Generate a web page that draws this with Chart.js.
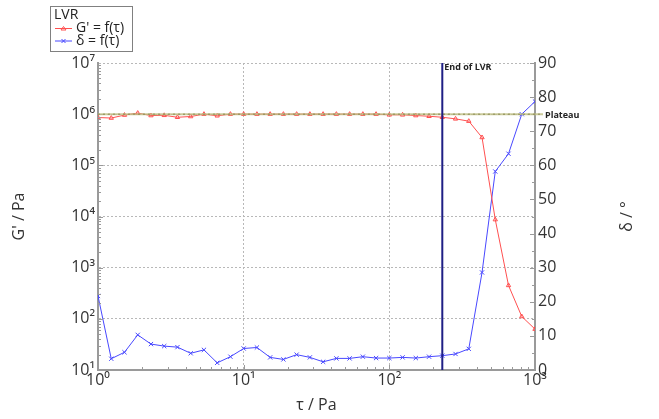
<!DOCTYPE html>
<html>
<head>
<meta charset="utf-8">
<script src="https://cdn.jsdelivr.net/npm/chart.js@4"></script>
<style>
  html, body { margin: 0; padding: 0; background: #fff; }
  #wrap { width: 659px; height: 419px; }
</style>
</head>
<body>
<div id="wrap"><canvas id="lvrChart"></canvas></div>
<script>
// shear stress tau / Pa
const tau = [1.0, 1.233, 1.52, 1.874, 2.31, 2.848, 3.511, 4.329, 5.337, 6.579, 8.111,
  10.0, 12.33, 15.2, 18.74, 23.1, 28.48, 35.11, 43.29, 53.37, 65.79, 81.11,
  100, 123.3, 152.0, 187.4, 231.0, 284.8, 351.1, 432.9, 533.7, 657.9, 811.1, 1000];

// storage modulus G' / Pa
const gPrime = [8.6e5, 8.4e5, 9.6e5, 1.05e6, 9.4e5, 9.5e5, 8.7e5, 9.0e5, 1.0e6, 9.3e5, 1.0e6,
  1.0e6, 1.0e6, 1.0e6, 1.0e6, 1.0e6, 1.0e6, 1.0e6, 1.0e6, 1.0e6, 1.0e6, 1.0e6,
  9.7e5, 9.7e5, 9.4e5, 9.1e5, 8.7e5, 8.1e5, 7.3e5, 3.5e5, 8.7e3, 450, 111, 63];

// phase angle delta / deg
const delta = [21.7, 3.3, 5.2, 10.3, 7.6, 7.0, 6.7, 4.9, 5.9, 2.1, 3.9,
  6.3, 6.6, 3.7, 3.1, 4.5, 3.7, 2.4, 3.4, 3.4, 3.9, 3.5,
  3.5, 3.7, 3.5, 3.9, 4.2, 4.7, 6.2, 28.6, 58.2, 63.4, 75.0, 78.7];

const endOfLvr = 231;     // Pa
const plateauG = 1.0e6;   // Pa
const legendTitle = "LVR";

const FONT = "'Open Sans', 'DejaVu Sans', sans-serif";
const SUP = { "0": "⁰", "1": "¹", "2": "²", "3": "³", "4": "⁴", "5": "⁵", "6": "⁶", "7": "⁷", "8": "⁸", "9": "⁹" };

function isDecade(v) {
  const e = Math.log10(v);
  return Math.abs(e - Math.round(e)) < 1e-9;
}
function powLabel(v) {
  if (!isDecade(v)) return "";
  return "10" + String(Math.round(Math.log10(v))).split("").map(c => SUP[c]).join("");
}
function gridColor(c) {
  return c.tick && isDecade(c.tick.value) ? "#b8b8b8" : "rgba(0,0,0,0)";
}

// minor ticks, reference lines, right title and legend
const extras = {
  id: "extras",
  afterDraw(chart) {
    const { ctx, chartArea: a, scales } = chart;
    const x = scales.x, y = scales.y, y1 = scales.y1;
    ctx.save();

    // inside ticks
    ctx.strokeStyle = "#9a9a9a";
    ctx.lineWidth = 1;
    ctx.beginPath();
    for (let d = 1; d < 1000; d *= 10) {
      for (let m = 1; m <= 9; m++) {
        const px = Math.round(x.getPixelForValue(d * m)) + 0.5;
        const len = m === 1 ? 5 : 3;
        ctx.moveTo(px, a.bottom); ctx.lineTo(px, a.bottom - len);
      }
    }
    for (let d = 10; d < 1e7; d *= 10) {
      for (let m = 1; m <= 9; m++) {
        const py = Math.round(y.getPixelForValue(d * m)) + 0.5;
        const len = m === 1 ? 5 : 3;
        ctx.moveTo(a.left, py); ctx.lineTo(a.left + len, py);
      }
    }
    for (let v = 0; v <= 90; v += 5) {
      const py = Math.round(y1.getPixelForValue(v)) + 0.5;
      const len = v % 10 === 0 ? 5 : 3;
      ctx.moveTo(a.right, py); ctx.lineTo(a.right - len, py);
    }
    ctx.stroke();

    // plateau line
    const py = y.getPixelForValue(plateauG);
    ctx.strokeStyle = "rgba(190,190,130,0.8)";
    ctx.lineWidth = 2;
    ctx.beginPath(); ctx.moveTo(a.left, py); ctx.lineTo(a.right + 8, py); ctx.stroke();
    ctx.strokeStyle = "#8c8c55";
    ctx.lineWidth = 1;
    ctx.setLineDash([2, 3]);
    ctx.beginPath(); ctx.moveTo(a.left, py); ctx.lineTo(a.right + 8, py); ctx.stroke();
    ctx.setLineDash([]);
    ctx.fillStyle = "#222";
    ctx.font = "bold 9px " + FONT;
    ctx.textBaseline = "middle";
    ctx.textAlign = "left";
    ctx.fillText("Plateau", a.right + 10, py + 1);

    // end of LVR line
    const px = x.getPixelForValue(endOfLvr);
    ctx.strokeStyle = "#1f1f85";
    ctx.lineWidth = 2;
    ctx.beginPath(); ctx.moveTo(px, a.top); ctx.lineTo(px, a.bottom); ctx.stroke();
    ctx.textBaseline = "top";
    ctx.fillText("End of LVR", px + 2, a.top);

    // right axis title, reading bottom to top
    ctx.font = "16px " + FONT;
    ctx.fillStyle = "#333";
    ctx.translate(627, (a.top + a.bottom) / 2);
    ctx.rotate(-Math.PI / 2);
    ctx.textAlign = "center";
    ctx.textBaseline = "middle";
    ctx.fillText("δ / °", 0, 0);
    ctx.setTransform(1, 0, 0, 1, 0, 0);

    // legend box
    ctx.strokeStyle = "#808080";
    ctx.lineWidth = 1;
    ctx.strokeRect(50.5, 6.5, 82, 45);
    ctx.fillStyle = "#222";
    ctx.textAlign = "left";
    ctx.textBaseline = "middle";
    ctx.font = "14px " + FONT;
    ctx.fillText(legendTitle, 54, 15);
    chart.data.datasets.forEach((ds, i) => {
      const ly = 28.5 + i * 12.5;
      ctx.strokeStyle = ds.borderColor;
      ctx.lineWidth = 1;
      ctx.beginPath(); ctx.moveTo(55, ly); ctx.lineTo(72, ly); ctx.stroke();
      ctx.beginPath();
      if (i === 0) {
        ctx.moveTo(63.5, ly - 2); ctx.lineTo(66, ly + 1.5); ctx.lineTo(61, ly + 1.5); ctx.closePath();
      } else {
        ctx.moveTo(61.5, ly - 2); ctx.lineTo(65.5, ly + 2);
        ctx.moveTo(65.5, ly - 2); ctx.lineTo(61.5, ly + 2);
      }
      ctx.stroke();
      ctx.fillStyle = "#222";
      ctx.fillText(ds.label, 76, ly);
    });
    ctx.restore();
  }
};

new Chart(document.getElementById("lvrChart"), {
  type: "line",
  data: {
    datasets: [
      {
        label: "G' = f(τ)",
        data: tau.map((t, i) => ({ x: t, y: gPrime[i] })),
        yAxisID: "y",
        borderColor: "#ff5050",
        backgroundColor: "rgba(255,255,255,0)",
        borderWidth: 1,
        pointStyle: "triangle",
        pointRadius: 2.5,
        pointBorderWidth: 1,
        tension: 0
      },
      {
        label: "δ = f(τ)",
        data: tau.map((t, i) => ({ x: t, y: delta[i] })),
        yAxisID: "y1",
        borderColor: "#4848ff",
        backgroundColor: "rgba(255,255,255,0)",
        borderWidth: 1,
        pointStyle: "crossRot",
        pointRadius: 3,
        pointBorderWidth: 1,
        tension: 0
      }
    ]
  },
  options: {
    responsive: true,
    maintainAspectRatio: false,
    animation: false,
    layout: { padding: { top: 63, left: 0, right: 0, bottom: 0 } },
    plugins: {
      legend: { display: false },
      tooltip: { enabled: false }
    },
    scales: {
      x: {
        type: "logarithmic",
        min: 1,
        max: 1000,
        afterFit: s => { s.height = 49; },
        grid: { color: gridColor, lineWidth: 1, drawTicks: false },
        border: { color: "#9a9a9a", width: 2, dash: [2, 2] },
        ticks: {
          autoSkip: false, maxRotation: 0, padding: 1,
          color: "#333", font: { family: FONT, size: 16 },
          callback: v => powLabel(v)
        },
        title: { display: true, text: "τ / Pa", color: "#333", font: { family: FONT, size: 16 }, padding: { top: 0, bottom: 4 } }
      },
      y: {
        type: "logarithmic",
        position: "left",
        min: 10,
        max: 1e7,
        afterFit: s => { s.width = 98; },
        grid: { color: gridColor, lineWidth: 1, drawTicks: false },
        border: { color: "#9a9a9a", width: 2, dash: [2, 2] },
        ticks: {
          autoSkip: false, padding: 3,
          color: "#333", font: { family: FONT, size: 16 },
          callback: v => powLabel(v)
        },
        title: { display: true, text: "G' / Pa", color: "#333", font: { family: FONT, size: 16 }, padding: { top: 10, bottom: 0 } }
      },
      y1: {
        type: "linear",
        position: "right",
        min: 0,
        max: 90,
        afterFit: s => { s.width = 124; },
        grid: { drawOnChartArea: false, drawTicks: false },
        border: { color: "#9a9a9a", width: 2 },
        ticks: {
          stepSize: 10, padding: 3,
          color: "#333", font: { family: FONT, size: 16 }
        }
      }
    }
  },
  plugins: [extras]
});
</script>
</body>
</html>
